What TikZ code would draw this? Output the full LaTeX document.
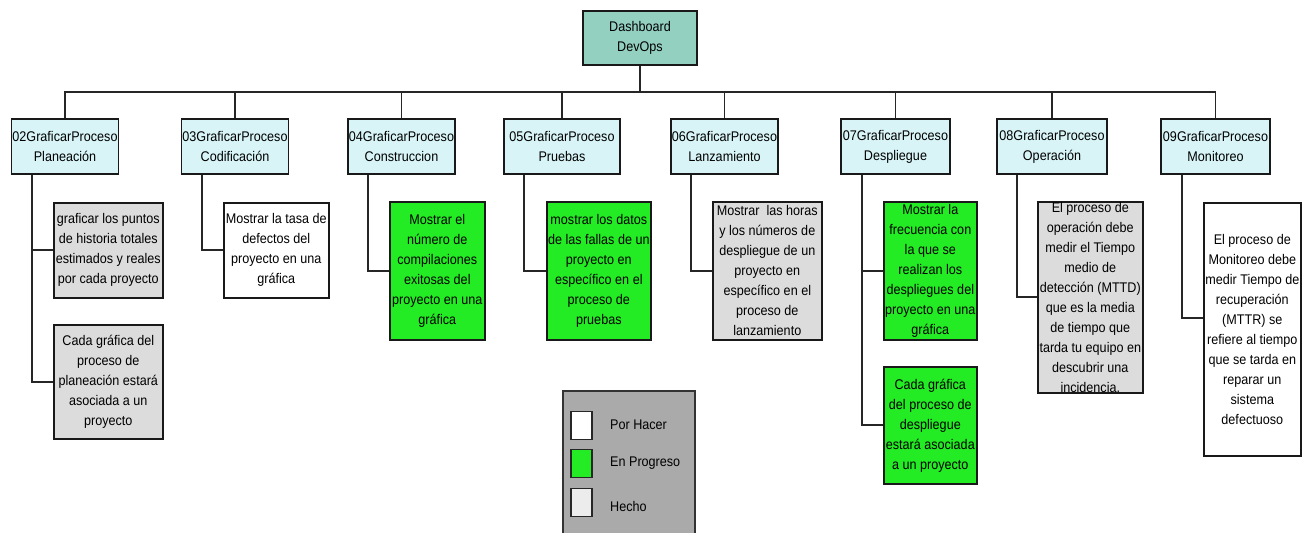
\documentclass[tikz,border=0pt]{standalone}
\usepackage{fontspec}
\setmainfont{Liberation Sans}[FakeStretch=0.9]
\definecolor{hdrfill}{RGB}{216,244,247}
\definecolor{dashfill}{RGB}{147,208,192}
\definecolor{progfill}{RGB}{36,236,36}
\definecolor{donefill}{RGB}{220,220,220}
\definecolor{legfill}{RGB}{170,170,170}
\definecolor{hechofill}{RGB}{236,236,236}
\tikzset{
  box/.style={draw=black!90, line width=1.6pt, inner sep=0pt, align=center,
    font=\fontsize{14}{20}\selectfont, text=black},
  hdr/.style={box, fill=hdrfill, minimum width=107, minimum height=55},
  card/.style={box, anchor=north west},
  todo/.style={fill=white},
  prog/.style={fill=progfill},
  done/.style={fill=donefill},
  conn/.style={draw=black!85, line width=1.7pt},
  swatch/.style={draw=black!85, line width=1.2pt, minimum width=21, minimum height=28, inner sep=0pt},
  legtext/.style={anchor=west, font=\fontsize{14}{20}\selectfont, text=black, inner sep=0pt}
}
\begin{document}
\begin{tikzpicture}[x=1pt,y=-1pt]
\useasboundingbox (0,0) rectangle (1302,533);
\fill[white] (0,0) rectangle (1302,533);
% root
\node[box, fill=dashfill, minimum width=114, minimum height=54] (dash) at (640,38) {Dashboard\\DevOps};
% headings
\node[hdr] (h02) at (65,146.5) {02GraficarProceso\\Planeación};
\node[hdr] (h03) at (235,146.5) {03GraficarProceso\\Codificación};
\node[hdr] (h04) at (401.5,146.5) {04GraficarProceso\\Construccion};
\node[hdr, minimum width=116] (h05) at (562,146.5) {05GraficarProceso\\Pruebas};
\node[hdr] (h06) at (724.5,146.5) {06GraficarProceso\\Lanzamiento};
\node[hdr, minimum width=109] (h07) at (895.5,146.5) {07GraficarProceso\\Despliegue};
\node[hdr, minimum width=110] (h08) at (1052,146.5) {08GraficarProceso\\Operación};
\node[hdr, minimum width=109] (h09) at (1215.5,146.5) {09GraficarProceso\\Monitoreo};
% cards
\node[card, done, minimum width=109, minimum height=95] (c02a) at (53,202) {graficar los puntos\\de historia totales\\estimados y reales\\por cada proyecto};
\node[card, done, minimum width=109, minimum height=114] (c02b) at (53,324) {Cada gráfica del\\proceso de\\planeación estará\\asociada a un\\proyecto};
\node[card, todo, minimum width=105, minimum height=95] (c03) at (223,202) {Mostrar la tasa de\\defectos del\\proyecto en una\\gráfica};
\node[card, prog, minimum width=95, minimum height=138] (c04) at (389,201) {Mostrar el\\número de\\compilaciones\\exitosas del\\proyecto en una\\gráfica};
\node[card, prog, minimum width=104, minimum height=138] (c05) at (546,201) {mostrar los datos\\de las fallas de un\\proyecto en\\específico en el\\proceso de\\pruebas};
\node[card, done, minimum width=109, minimum height=138] (c06) at (712,201) {Mostrar\ \ las horas\\y los números de\\despliegue de un\\proyecto en\\específico en el\\proceso de\\lanzamiento};
\node[card, prog, minimum width=93, minimum height=138] (c07a) at (883,201) {Mostrar la\\frecuencia con\\la que se\\realizan los\\despliegues del\\proyecto en una\\gráfica};
\node[card, prog, minimum width=93, minimum height=117] (c07b) at (883,366) {Cada gráfica\\del proceso de\\despliegue\\estará asociada\\a un proyecto};
\node[card, done, minimum width=105, minimum height=191] (c08) at (1037,201) {El proceso de\\operación debe\\medir el Tiempo\\medio de\\detección (MTTD)\\que es la media\\de tiempo que\\tarda tu equipo en\\descubrir una\\incidencia.};
\node[card, todo, minimum width=97, minimum height=253] (c09) at (1203,202) {El proceso de\\Monitoreo debe\\medir Tiempo de\\recuperación\\(MTTR) se\\refiere al tiempo\\que se tarda en\\reparar un\\sistema\\defectuoso};
% bus
\coordinate (bus) at (0,92);
\draw[conn] (dash.south) -- (dash.south |- bus);
\draw[conn] (h02.north) -- (h02.north |- bus) -- (h09.north |- bus) -- (h09.north);
\foreach \h in {h03,h04,h05,h06,h07,h08}
  \draw[conn] (\h.north) -- (\h.north |- bus);
% children
\draw[conn] ([xshift=21pt]h02.south west) |- (c02a.west);
\draw[conn] ([xshift=21pt]h02.south west) |- (c02b.west);
\draw[conn] ([xshift=21pt]h03.south west) |- (c03.west);
\draw[conn] ([xshift=21pt]h04.south west) |- (c04.west);
\draw[conn] ([xshift=21pt]h05.south west) |- (c05.west);
\draw[conn] ([xshift=21pt]h06.south west) |- (c06.west);
\draw[conn] ([xshift=22pt]h07.south west) |- (c07a.west);
\draw[conn] ([xshift=22pt]h07.south west) |- (c07b.west);
\draw[conn] ([xshift=21pt]h08.south west) |- (c08.west);
\draw[conn] ([xshift=22pt]h09.south west) |- ([yshift=11.5pt]c09.west);
% legend
\node[draw=black!80, line width=1.5pt, fill=legfill, anchor=north west, minimum width=132, minimum height=145, inner sep=0pt] (leg) at (562,390) {};
\node[swatch, fill=white] (s1) at (581.5,425.5) {};
\node[swatch, fill=progfill] (s2) at (581.5,463.5) {};
\node[swatch, fill=hechofill] (s3) at (581.5,502.5) {};
\node[legtext] (l1) at (610,425) {Por Hacer};
\node[legtext] (l2) at (610,463) {En Progreso};
\node[legtext] (l3) at (610,506) {Hecho};
\end{tikzpicture}
\end{document}
